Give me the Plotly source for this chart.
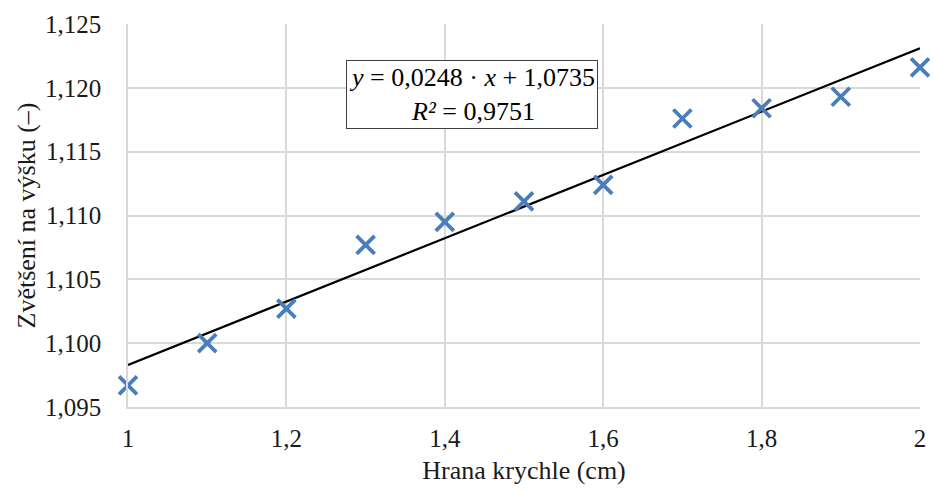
import plotly.graph_objects as go

edge_cm = [1.0, 1.1, 1.2, 1.3, 1.4, 1.5, 1.6, 1.7, 1.8, 1.9, 2.0]
magnification = [1.0967, 1.1000, 1.1027, 1.1077, 1.1095, 1.1111, 1.1124, 1.1176, 1.1184, 1.1193, 1.1216]
trend_slope = 0.0248
trend_intercept = 1.0735
trend_x = [1.0, 2.0]
x_ticks = [1.0, 1.2, 1.4, 1.6, 1.8, 2.0]
x_tick_labels = ["1", "1,2", "1,4", "1,6", "1,8", "2"]
y_ticks = [1.095, 1.100, 1.105, 1.110, 1.115, 1.120, 1.125]
y_tick_labels = ["1,095", "1,100", "1,105", "1,110", "1,115", "1,120", "1,125"]

font = "Liberation Serif"
txt = "#1a1a1a"

fig = go.Figure()
fig.add_trace(go.Scatter(
    x=trend_x, y=[trend_slope * v + trend_intercept for v in trend_x],
    mode="lines", line=dict(color="black", width=2.2), showlegend=False, cliponaxis=False))
fig.add_trace(go.Scatter(
    x=edge_cm, y=magnification, mode="markers",
    marker=dict(symbol="x-thin-open", size=18, color="#4A7EBB", line=dict(color="#4A7EBB", width=3.8)),
    showlegend=False, cliponaxis=False))

fig.add_annotation(
    x=0.434, y=0.817, xref="paper", yref="paper", xanchor="center", yanchor="middle",
    text="<i>y</i> = 0,0248 · <i>x</i> + 1,0735<br><i>R²</i> = 0,9751",
    showarrow=False, font=dict(family=font, size=26, color="black"),
    bordercolor="#404040", borderwidth=1, borderpad=2, bgcolor="white", align="center")

fig.update_layout(
    width=933, height=491,
    margin=dict(l=128, r=13, t=24, b=84, autoexpand=False),
    paper_bgcolor="white", plot_bgcolor="white",
    font=dict(family=font, size=25, color=txt),
)
fig.update_xaxes(
    range=[1, 2], tickvals=x_ticks, ticktext=x_tick_labels,
    tickfont=dict(family=font, size=25, color=txt),
    showgrid=True, gridcolor="#D9D9D9", gridwidth=1.5,
    showline=True, linecolor="#D9D9D9", linewidth=1.5, mirror=False,
    zeroline=False, ticks="outside", ticklen=8, tickcolor="rgba(0,0,0,0)",
    automargin=False,
    title=dict(text="Hrana krychle (cm)", font=dict(family=font, size=26, color=txt), standoff=10))
fig.update_yaxes(
    range=[1.095, 1.125], tickvals=y_ticks, ticktext=y_tick_labels,
    tickfont=dict(family=font, size=25, color=txt),
    showgrid=True, gridcolor="#D9D9D9", gridwidth=1.5,
    showline=True, linecolor="#D9D9D9", linewidth=1.5,
    zeroline=False, ticks="outside", ticklen=20, tickcolor="rgba(0,0,0,0)",
    automargin=False,
    title=dict(text="Zvětšení na výšku (–)", font=dict(family=font, size=26, color=txt), standoff=2))

fig.write_html("out.html", config={"displayModeBar": False},
               post_script="document.body.style.margin='0';document.body.style.overflow='hidden';")
